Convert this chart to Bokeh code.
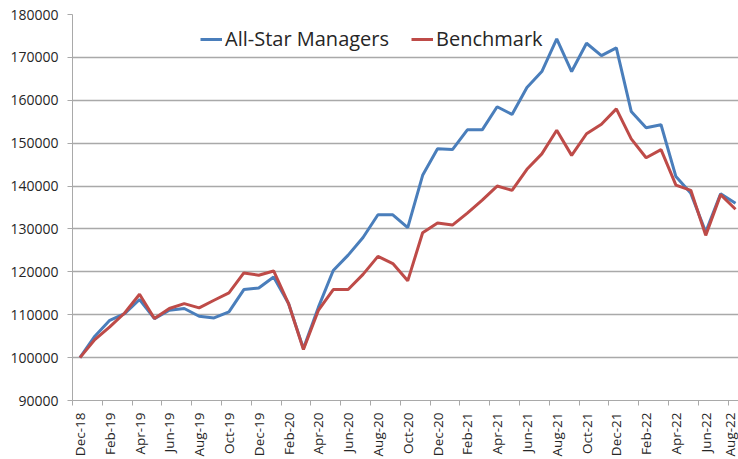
import math
from bokeh.plotting import figure
from bokeh.models import FixedTicker, Legend, LegendItem, Range1d, NumeralTickFormatter
from bokeh.embed import file_html
from bokeh.resources import INLINE

months = ["Dec-18", "Jan-19", "Feb-19", "Mar-19", "Apr-19", "May-19", "Jun-19", "Jul-19",
          "Aug-19", "Sep-19", "Oct-19", "Nov-19", "Dec-19", "Jan-20", "Feb-20", "Mar-20",
          "Apr-20", "May-20", "Jun-20", "Jul-20", "Aug-20", "Sep-20", "Oct-20", "Nov-20",
          "Dec-20", "Jan-21", "Feb-21", "Mar-21", "Apr-21", "May-21", "Jun-21", "Jul-21",
          "Aug-21", "Sep-21", "Oct-21", "Nov-21", "Dec-21", "Jan-22", "Feb-22", "Mar-22",
          "Apr-22", "May-22", "Jun-22", "Jul-22", "Aug-22"]

all_star = [100000, 105000, 108700, 110250, 113550, 109100, 111050, 111450, 109650, 109260,
            110660, 115870, 116240, 118800, 112600, 102100, 111700, 120300, 123900, 128000,
            133300, 133300, 130300, 142500, 148700, 148500, 153100, 153100, 158500, 156700,
            163000, 166700, 174300, 166700, 173300, 170400, 172200, 157400, 153600, 154300,
            142200, 138300, 129300, 138200, 136000]

benchmark = [100000, 104200, 107150, 110400, 114780, 109120, 111450, 112600, 111600, 113380,
             115080, 119740, 119200, 120200, 112600, 101900, 111000, 115870, 115870, 119400,
             123600, 121930, 117900, 129100, 131400, 130900, 133700, 136700, 140000, 139000,
             143900, 147500, 153000, 147150, 152200, 154400, 158000, 151000, 146600, 148500,
             140200, 139000, 128500, 138000, 134600]

y_ticks = [90000, 100000, 110000, 120000, 130000, 140000, 150000, 160000, 170000, 180000]

series_names = ["All-Star Managers", "Benchmark"]
series_colors = ["#4a7ebb", "#be4b48"]

x = list(range(len(months)))

p = figure(frame_width=666, frame_height=386, output_backend="svg", toolbar_location=None,
           x_range=Range1d(-0.5, 44.2), y_range=Range1d(90000, 180000),
           min_border_left=72, min_border_right=0, min_border_top=14, min_border_bottom=50)
p.outline_line_color = None
p.background_fill_color = "white"
p.border_fill_color = "white"

r1 = p.line(x, all_star, line_color=series_colors[0], line_width=3)
r2 = p.line(x, benchmark, line_color=series_colors[1], line_width=3)

grid_col = "#a9a9a9"
text_col = "#262626"

# y axis
p.yaxis.ticker = FixedTicker(ticks=y_ticks)
p.yaxis.formatter = NumeralTickFormatter(format="0")
p.yaxis.axis_line_color = grid_col
p.yaxis.major_tick_line_color = grid_col
p.yaxis.major_tick_out = 5
p.yaxis.major_tick_in = 0
p.yaxis.minor_tick_line_color = None
p.yaxis.major_label_text_font = "Open Sans"
p.yaxis.major_label_text_font_size = "14px"
p.yaxis.major_label_text_color = text_col
p.yaxis.major_label_standoff = 9

# x axis
major = [i for i in x if i % 2 == 0]
minor = [i - 0.5 for i in major]
p.xaxis.ticker = FixedTicker(ticks=major, minor_ticks=minor)
p.xaxis.major_label_overrides = {i: months[i] for i in major}
p.xaxis.major_label_orientation = math.pi / 2
p.xaxis.axis_line_color = grid_col
p.xaxis.major_tick_line_color = None
p.xaxis.major_tick_out = 0
p.xaxis.major_tick_in = 0
p.xaxis.minor_tick_line_color = grid_col
p.xaxis.minor_tick_out = 5
p.xaxis.minor_tick_in = 0
p.xaxis.major_label_text_font = "Open Sans"
p.xaxis.major_label_text_font_size = "13.5px"
p.xaxis.major_label_text_color = text_col
p.xaxis.major_label_standoff = 7

p.xgrid.grid_line_color = None
p.ygrid.ticker = FixedTicker(ticks=y_ticks)
p.ygrid.grid_line_color = grid_col
p.ygrid.grid_line_width = 1.5

legend = Legend(items=[LegendItem(label=series_names[0], renderers=[r1]),
                       LegendItem(label=series_names[1], renderers=[r2])],
                orientation="horizontal", location=(128, 348))
legend.label_text_font = "Open Sans"
legend.label_text_font_size = "20px"
legend.label_text_color = text_col
legend.glyph_width = 22
legend.glyph_height = 20
legend.label_height = 20
legend.label_standoff = 3
legend.spacing = 22
legend.padding = 0
legend.margin = 0
legend.border_line_color = None
legend.background_fill_alpha = 0
p.add_layout(legend)

open("out.html", "w").write(file_html(p, INLINE))
